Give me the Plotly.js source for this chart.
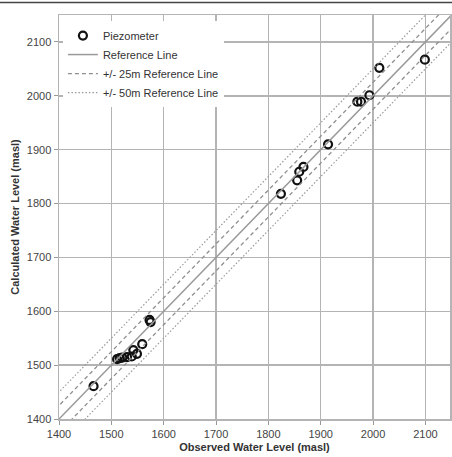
<!DOCTYPE html>
<html>
<head>
<meta charset="utf-8">
<script src="https://cdn.plot.ly/plotly-3.0.1.min.js"></script>
<style>html,body{margin:0;padding:0;background:#fff;}#chart{width:452px;height:457px;}</style>
</head>
<body>
<div id="chart"></div>
<script>
// Observed vs calculated water levels (masl)
const observed = [1466, 1511, 1516, 1521, 1530, 1539, 1542, 1549, 1559, 1573, 1575,
                  1824, 1855, 1859, 1867, 1914, 1970, 1977, 1993, 2012, 2099];
const calculated = [1461, 1511, 1513, 1514, 1515, 1516, 1528, 1521, 1539, 1584, 1580,
                    1818, 1843, 1859, 1868, 1910, 1989, 1989, 2001, 2052, 2067];
const refX = [1300, 2250];
const offset25 = 25;
const offset50 = 50;
const xTicks = [1400, 1500, 1600, 1700, 1800, 1900, 2000, 2100];
const yTicks = [1400, 1500, 1600, 1700, 1800, 1900, 2000, 2100];

const lineColor = '#9a9a9a';
const traces = [
  {x: observed, y: calculated, mode: 'markers', name: 'Piezometer', type: 'scatter',
   marker: {symbol: 'circle-open', size: 8, color: '#111', line: {width: 2.2, color: '#111'}}},
  {x: refX, y: refX, mode: 'lines', name: 'Reference Line', type: 'scatter',
   line: {color: lineColor, width: 1.5}},
  {x: refX, y: refX.map(v => v + offset25), mode: 'lines', name: '+/- 25m Reference Line', type: 'scatter',
   legendgroup: 'd25', line: {color: '#8f8f8f', width: 1.3, dash: '4px,3px'}},
  {x: refX, y: refX.map(v => v - offset25), mode: 'lines', name: '+/- 25m Reference Line', type: 'scatter',
   legendgroup: 'd25', showlegend: false, line: {color: '#8f8f8f', width: 1.3, dash: '4px,3px'}},
  {x: refX, y: refX.map(v => v + offset50), mode: 'lines', name: '+/- 50m Reference Line', type: 'scatter',
   legendgroup: 'd50', line: {color: lineColor, width: 1.2, dash: '1.5px,2px'}},
  {x: refX, y: refX.map(v => v - offset50), mode: 'lines', name: '+/- 50m Reference Line', type: 'scatter',
   legendgroup: 'd50', showlegend: false, line: {color: lineColor, width: 1.2, dash: '1.5px,2px'}}
];

const axisCommon = {
  showgrid: true, gridcolor: '#b4b4b4', gridwidth: 1.5,
  showline: true, linecolor: '#b4b4b4', linewidth: 1.5, mirror: true,
  ticks: 'outside', ticklen: 4, tickcolor: '#999', tickwidth: 1,
  zeroline: false,
  tickfont: {family: 'Liberation Sans, Arial, sans-serif', size: 11, color: '#444'}
};

const layout = {
  width: 452, height: 457,
  margin: {l: 59, r: 2, t: 15, b: 38},
  paper_bgcolor: '#fff', plot_bgcolor: '#fff',
  showlegend: true,
  legend: {x: 0.01, y: 0.985, xanchor: 'left', yanchor: 'top',
           bgcolor: '#fff', borderwidth: 0, tracegroupgap: 0, itemwidth: 30,
           font: {family: 'Liberation Sans, Arial, sans-serif', size: 11, color: '#333'}},
  xaxis: Object.assign({}, axisCommon, {
    range: [1400, 2147], tickvals: xTicks, ticktext: xTicks.map(String),
    title: {text: 'Observed Water Level (masl)', standoff: 4,
            font: {family: 'Liberation Sans, Arial, sans-serif', size: 11, color: '#333', weight: 'bold'}}
  }),
  yaxis: Object.assign({}, axisCommon, {
    range: [1400, 2150], tickvals: yTicks, ticktext: yTicks.map(String),
    title: {text: 'Calculated Water Level (masl)', standoff: 5,
            font: {family: 'Liberation Sans, Arial, sans-serif', size: 11, color: '#333', weight: 'bold'}}
  }),
  shapes: [{type: 'line', xref: 'paper', yref: 'paper', x0: -0.16, x1: 1.01, y0: 1.031, y1: 1.031,
            line: {color: '#444', width: 1.5}}]
};

Plotly.newPlot('chart', traces, layout, {staticPlot: true, displayModeBar: false});
</script>
</body>
</html>
